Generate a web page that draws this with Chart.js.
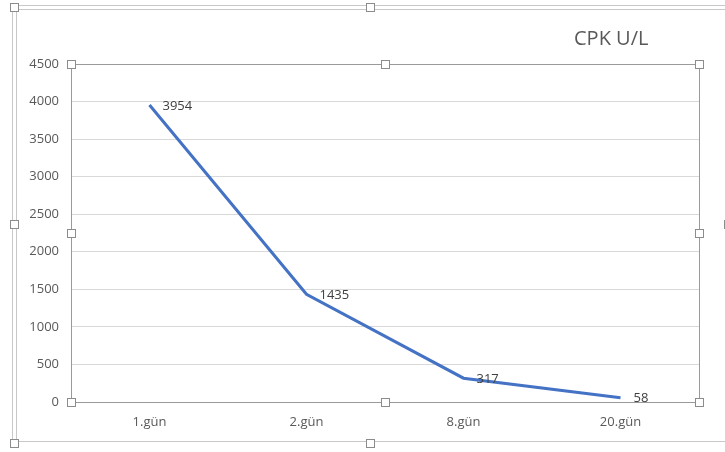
<!DOCTYPE html>
<html>
<head>
<meta charset="utf-8">
<script src="https://cdn.jsdelivr.net/npm/chart.js@4/dist/chart.umd.min.js"></script>
<style>
  html, body { margin: 0; padding: 0; background: #ffffff; }
  #wrap { width: 725px; height: 452px; position: relative; }
</style>
</head>
<body>
<div id="wrap"><canvas id="c" width="725" height="452"></canvas></div>
<script>
// CPK (U/L) measured on each day
const days = ['1.gün', '2.gün', '8.gün', '20.gün'];
const cpkValues = [3954, 1435, 317, 58];
const chartTitle = 'CPK U/L';
const yMax = 4500;
const yStep = 500;

const FONT = '"Open Sans", "Liberation Sans", sans-serif';

// Selection-style frames (double outer border, plot-area border) with square handles
function handle(ctx, x, y) {
  ctx.save();
  ctx.fillStyle = '#ffffff';
  ctx.strokeStyle = '#8c8c8c';
  ctx.lineWidth = 1;
  ctx.fillRect(x - 4, y - 4, 8, 8);
  ctx.strokeRect(x - 3.5, y - 3.5, 8, 8);
  ctx.restore();
}

const framePlugin = {
  id: 'frames',
  beforeDraw(chart) {
    const ctx = chart.ctx;
    ctx.save();
    ctx.fillStyle = '#ffffff';
    ctx.fillRect(0, 0, chart.width, chart.height);
    // outer double border
    ctx.strokeStyle = '#c8c8c8';
    ctx.lineWidth = 1;
    ctx.strokeRect(12.5, 5.5, 740, 436);
    ctx.strokeRect(16.5, 9.5, 740, 432);
    ctx.restore();
  },
  afterDraw(chart) {
    const ctx = chart.ctx;
    const a = chart.chartArea;
    ctx.save();
    ctx.strokeStyle = '#9a9a9a';
    ctx.lineWidth = 1;
    ctx.strokeRect(Math.round(a.left) + 0.5, Math.round(a.top) + 0.5,
                   Math.round(a.right - a.left), Math.round(a.bottom - a.top));
    ctx.restore();
    const cx = (a.left + a.right) / 2, cy = (a.top + a.bottom) / 2;
    [[a.left, a.top], [cx, a.top], [a.right, a.top],
     [a.left, cy], [a.right, cy],
     [a.left, a.bottom], [cx, a.bottom], [a.right, a.bottom]].forEach(p => handle(ctx, Math.round(p[0]), Math.round(p[1])));
    // outer frame handles
    [[14, 7], [370, 7], [14, 224], [14, 443], [370, 443], [728, 224]].forEach(p => handle(ctx, p[0], p[1]));

    // title
    ctx.save();
    ctx.fillStyle = '#595959';
    ctx.font = '20px ' + FONT;
    ctx.textAlign = 'left';
    ctx.textBaseline = 'middle';
    ctx.fillText(chartTitle, 574, 39);
    ctx.restore();

    // value labels to the right of each point
    const meta = chart.getDatasetMeta(0);
    ctx.save();
    ctx.fillStyle = '#404040';
    ctx.font = '13px ' + FONT;
    ctx.textAlign = 'left';
    ctx.textBaseline = 'middle';
    meta.data.forEach((pt, i) => {
      ctx.fillText(String(cpkValues[i]), pt.x + 13, pt.y + 1);
    });
    ctx.restore();
  }
};

new Chart(document.getElementById('c'), {
  type: 'line',
  data: {
    labels: days,
    datasets: [{
      data: cpkValues,
      borderColor: '#4472C4',
      borderWidth: 3,
      pointRadius: 0,
      tension: 0,
      fill: false
    }]
  },
  options: {
    responsive: false,
    animation: false,
    devicePixelRatio: 1,
    layout: { padding: { top: 64, right: 26, left: 0, bottom: 0 } },
    plugins: { legend: { display: false }, tooltip: { enabled: false } },
    scales: {
      x: {
        offset: true,
        grid: { display: false, drawTicks: false },
        border: { display: false },
        ticks: { color: '#595959', font: { family: FONT, size: 13 }, padding: 12 },
        afterFit(s) { s.height = 50; }
      },
      y: {
        min: 0,
        max: yMax,
        grid: { color: '#d9d9d9', lineWidth: 1, drawTicks: false },
        border: { display: false },
        ticks: {
          stepSize: yStep,
          color: '#595959',
          font: { family: FONT, size: 13 },
          padding: 12,
          callback: v => String(v)
        },
        afterFit(s) { s.width = 71; }
      }
    }
  },
  plugins: [framePlugin]
});
</script>
</body>
</html>
